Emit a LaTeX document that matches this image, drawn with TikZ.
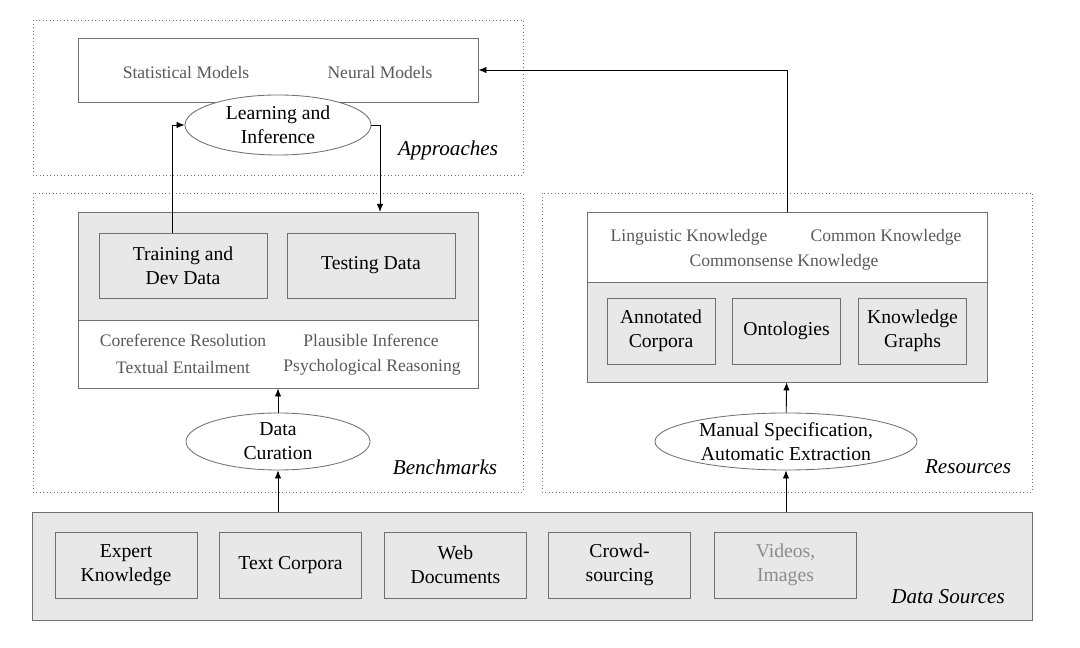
\documentclass[tikz,border=0pt]{standalone}
\usepackage{fontspec}
\setmainfont{Liberation Serif}
\usetikzlibrary{arrows.meta,shapes.geometric}
\definecolor{panel}{HTML}{E8E8E8}
\definecolor{frame}{HTML}{707070}
\tikzset{%
  >={Latex[width=1.6mm,length=2mm]},
  % Specifications for style of nodes:
           base/.style = {rectangle, draw=frame, inner sep=0pt,
                          text centered, align=center, font=\fontsize{14}{17}\selectfont},
  box0/.style = {base, fill=white},
  box1/.style = {base, fill=panel},
  oval/.style = {base, ellipse, fill=white},
  item/.style = {font=\fontsize{12.5}{15}\selectfont, text=black!65},
  tag/.style  = {font=\fontsize{15}{18}\selectfont\itshape, anchor=center},
  zone/.style = {draw=frame, dotted, line width=0.5pt},
}

\begin{document}
\begin{tikzpicture}[x=0.025cm, y=-0.025cm, line width=0.6pt]
  \useasboundingbox (0,0) rectangle (1080,648);

  % dotted frames
  \draw[zone] (33,20) rectangle (523,175);
  \draw[zone] (33,193) rectangle (523,492);
  \draw[zone] (542,193) rectangle (1032,492);

  % Approaches
  \node (onModels) [box0, minimum width=10cm, minimum height=1.6cm] at (278,70) {};
  \node [item] at (186,72) {Statistical Models};
  \node [item] at (380,72) {Neural Models};
  \node (onLearn) [oval, minimum width=4.65cm, minimum height=1.5cm] at (278,125) {Learning and\\Inference};
  \node [tag] at (448,150) {Approaches};

  % Benchmarks
  \node (onBench) [box1, minimum width=10cm, minimum height=2.7cm] at (278,266) {};
  \node (onTrain) [box1, minimum width=4.2cm, minimum height=1.625cm] at (183,265.5) {Training and\\Dev Data};
  \node (onTest)  [box1, minimum width=4.2cm, minimum height=1.625cm] at (371,265.5) {Testing Data};
  \node (onTasks) [box0, minimum width=10cm, minimum height=1.7cm] at (278,354) {};
  \node [item] at (183,340) {Coreference Resolution};
  \node [item] at (371,340) {Plausible Inference};
  \node [item] at (183,367) {Textual Entailment};
  \node [item] at (372,367) {Psychological Reasoning};
  \node (onCuration) [oval, minimum width=4.6cm, minimum height=1.425cm] at (278,441.5) {Data\\Curation};
  \node [tag] at (445,467) {Benchmarks};

  % Resources
  \node (onKnow) [box0, minimum width=10cm, minimum height=1.75cm] at (787,247) {};
  \node [item] at (689,237) {Linguistic Knowledge};
  \node [item] at (886,237) {Common Knowledge};
  \node [item] at (784,262) {Commonsense Knowledge};
  \node (onRes) [box1, minimum width=10cm, minimum height=2.5cm] at (787,332) {};
  \node (onAnnot) [box1, minimum width=2.7cm, minimum height=1.65cm] at (661,331) {Annotated\\Corpora};
  \node (onOnto)  [box1, minimum width=2.7cm, minimum height=1.65cm] at (786.5,331) {Ontologies};
  \node (onGraph) [box1, minimum width=2.7cm, minimum height=1.65cm] at (912.5,331) {Knowledge\\Graphs};
  \node (onManual) [oval, minimum width=6.55cm, minimum height=1.425cm] at (786,441.5) {Manual Specification,\\Automatic Extraction};
  \node [tag] at (968,467) {Resources};

  % Data sources
  \node (onSources) [box1, minimum width=24.975cm, minimum height=2.7cm] at (532.5,566) {};
  \node (onExpert) [box1, minimum width=3.55cm, minimum height=1.65cm] at (126,565) {Expert\\Knowledge};
  \node (onText)   [box1, minimum width=3.55cm, minimum height=1.65cm] at (290.5,565) {Text Corpora};
  \node (onWeb)    [box1, minimum width=3.55cm, minimum height=1.65cm] at (455.5,565) {Web\\Documents};
  \node (onCrowd)  [box1, minimum width=3.55cm, minimum height=1.65cm] at (619.5,565) {Crowd-\\sourcing};
  \node (onVideo)  [box1, minimum width=3.55cm, minimum height=1.65cm, text=black!45] at (785.5,565) {Videos,\\Images};
  \node [tag] at (948,597) {Data Sources};

  % arrows
  \coordinate (upTrain) at (172,233);
  \coordinate (downTest) at (380,212);
  \draw[->] (onSources.north -| onCuration) -- (onCuration);
  \draw[->] (onCuration) -- (onTasks);
  \draw[->] (upTrain) |- (onLearn.west);
  \draw[->] (onLearn.east) -| (downTest);
  \draw[->] (onSources.north -| onManual) -- (onManual);
  \draw[->] (onManual) -- (onRes);
  \draw[->] (onKnow.north) |- (onModels.east);
\end{tikzpicture}
\end{document}
